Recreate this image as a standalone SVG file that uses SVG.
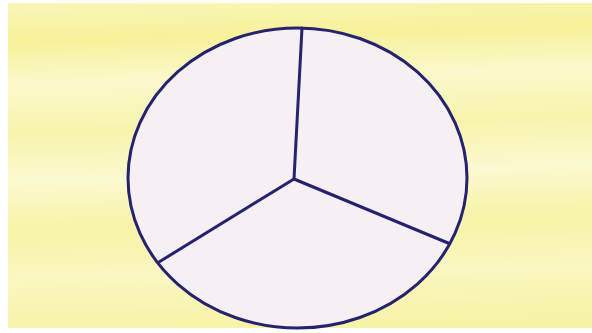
<svg xmlns="http://www.w3.org/2000/svg" width="592" height="333" viewBox="0 0 592 333">
<defs>
<linearGradient id="bg" x1="0" y1="0" x2="0.05" y2="1">
<stop offset="0" stop-color="#f9f6b8"/>
<stop offset="0.12" stop-color="#f7f19a"/>
<stop offset="0.25" stop-color="#fbf9cc"/>
<stop offset="0.4" stop-color="#f8f4ad"/>
<stop offset="0.55" stop-color="#fbf9d0"/>
<stop offset="0.7" stop-color="#f8f3a6"/>
<stop offset="0.85" stop-color="#faf7c2"/>
<stop offset="1" stop-color="#f7f3a8"/>
</linearGradient>
<style>
.edge{stroke:#25226e;stroke-width:3;fill:none;stroke-linecap:round}
</style>
</defs>
<rect width="592" height="333" fill="#ffffff"/>
<rect x="8" y="3" width="584" height="325" fill="url(#bg)"/>
<g id="circle">
<ellipse cx="297.5" cy="178" rx="169.5" ry="150" fill="#f6eff4" stroke="#25226e" stroke-width="3"/>
</g>
<g id="dividers">
<line class="edge" x1="294" y1="179" x2="302" y2="28"/>
<line class="edge" x1="294" y1="179" x2="448" y2="243"/>
<line class="edge" x1="294" y1="179" x2="159" y2="262"/>
</g>
</svg>
